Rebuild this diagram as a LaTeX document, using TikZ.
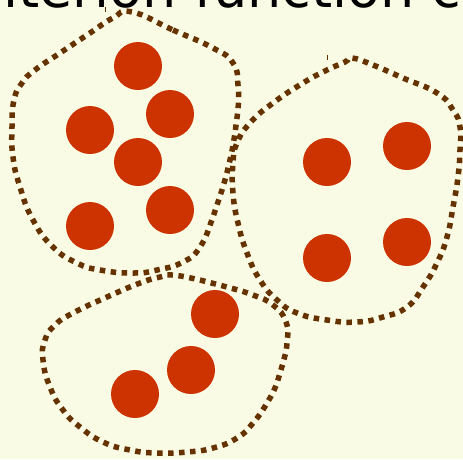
\documentclass[tikz,border=0pt]{standalone}
\usepackage{fontspec}
\newfontfamily\dejavu{DejaVu Sans}
\definecolor{bg}{RGB}{249,251,229}
\definecolor{blobc}{RGB}{102,51,0}
\definecolor{dotc}{RGB}{204,51,0}
\begin{document}
\begin{tikzpicture}[x=1pt,y=-1pt,
  ball/.style={circle,fill=dotc,draw=none,minimum size=48pt,inner sep=0pt},
  blob/.style={draw=blobc,line width=5.5pt,dash pattern=on 5.5pt off 5.5pt,line cap=butt},
  tick/.style={draw=blobc,line width=0.8pt}]
\useasboundingbox (0,0) rectangle (463,459);
\fill[bg] (0,0) rectangle (463,459);
\clip (0,0) rectangle (463,459);
\node[anchor=base west,inner sep=0pt,font=\dejavu\fontsize{54}{60}\selectfont] (title) at (-49,7) {criterion function c};
% blobs
\draw[blob] plot[smooth cycle,tension=0.85] coordinates {(132,12) (173,30) (213,48) (233,63) (238,85) (238,110) (235,133) (230,160) (222,190) (213,217) (200,247) (183,262) (157,270) (133,273) (100,270) (77,263) (53,247) (33,220) (20,187) (13,157) (12,127) (14,100) (22,83) (35,70) (60,53) (90,33) (113,18)};
\draw[blob] plot[smooth cycle,tension=0.85] coordinates {(352,58) (373,65) (403,78) (437,93) (453,110) (460,127) (460,150) (458,177) (453,207) (447,237) (437,263) (423,287) (407,307) (383,317) (357,322) (327,320) (297,313) (277,300) (260,280) (247,253) (238,223) (233,193) (233,163) (237,143) (250,123) (273,103) (303,83) (327,70) (345,62)};
\draw[blob] plot[smooth cycle,tension=0.85] coordinates {(172,275) (200,280) (227,287) (253,295) (273,305) (286,322) (287,343) (283,363) (277,383) (267,403) (253,423) (237,438) (213,448) (187,452) (157,453) (130,450) (103,442) (80,427) (63,410) (50,387) (43,360) (45,340) (55,325) (73,313) (107,297) (140,283) (160,277)};
\coordinate (t1a) at (105,7); \coordinate (t1b) at (105,12);
\draw[tick] (t1a) -- (t1b);
\coordinate (t2a) at (327,55); \coordinate (t2b) at (327,60);
\draw[tick] (t2a) -- (t2b);
% cluster 1
\node[ball] (a1) at (138,66) {};
\node[ball] (a2) at (170,114) {};
\node[ball] (a3) at (90,130) {};
\node[ball] (a4) at (138,162) {};
\node[ball] (a5) at (170,210) {};
\node[ball] (a6) at (90,226) {};
% cluster 2
\node[ball] (b1) at (327,162) {};
\node[ball] (b2) at (407,146) {};
\node[ball] (b3) at (327,258) {};
\node[ball] (b4) at (407,242) {};
% cluster 3
\node[ball] (c1) at (215,314) {};
\node[ball] (c2) at (191,370) {};
\node[ball] (c3) at (135,394) {};
\end{tikzpicture}
\end{document}
